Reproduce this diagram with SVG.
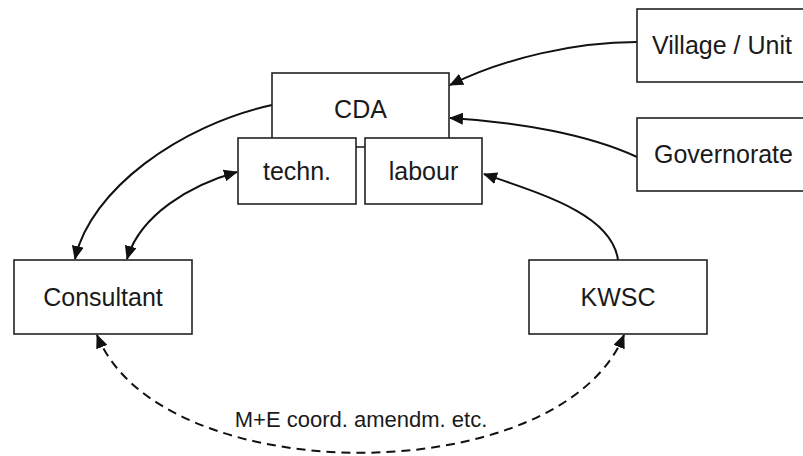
<svg xmlns="http://www.w3.org/2000/svg" width="803" height="456" viewBox="0 0 803 456">
  <style>
    .box { fill: #ffffff; stroke: #222222; stroke-width: 1.6; }
    .lbl { font-family: "Liberation Sans", Arial, sans-serif; font-size: 25px; fill: #1a1a1a; }
    .mid { text-anchor: middle; }
    .edge { fill: none; stroke: #111111; stroke-width: 2; }
    .dash { stroke-dasharray: 9 6; }
    .note { font-family: "Liberation Sans", Arial, sans-serif; font-size: 22px; fill: #1a1a1a; text-anchor: middle; }
  </style>
  <defs>
    <marker id="arrow" viewBox="0 0 14 12" refX="13" refY="6" markerWidth="14" markerHeight="12" markerUnits="userSpaceOnUse" orient="auto-start-reverse">
      <path d="M0,0 L14,6 L0,12 Z" fill="#111111"/>
    </marker>
  </defs>

  <rect x="0" y="0" width="803" height="456" fill="#ffffff"/>

  <!-- connectors -->
  <g id="connectors">
    <path class="edge" d="M637,42 C575,42 505,58 450,85" marker-end="url(#arrow)"/>
    <path class="edge" d="M637,157 C590,135 520,122 450,118" marker-end="url(#arrow)"/>
    <path class="edge" d="M618,260 C612,215 545,195 484,174" marker-end="url(#arrow)"/>
    <path class="edge" d="M272,105 C180,125 90,190 75,259" marker-end="url(#arrow)"/>
    <path class="edge" d="M127,259 C140,215 190,185 237,172" marker-start="url(#arrow)" marker-end="url(#arrow)"/>
    <path class="edge dash" d="M97,335 C160,492 560,492 624,335" marker-start="url(#arrow)" marker-end="url(#arrow)"/>
    <text class="note" x="361" y="427">M+E coord. amendm. etc.</text>
  </g>

  <!-- nodes -->
  <g id="cda">
    <rect class="box" x="272" y="73" width="177" height="74"/>
    <text class="lbl mid" x="360.5" y="118">CDA</text>
  </g>
  <g id="techn">
    <rect class="box" x="238" y="138" width="118" height="66"/>
    <text class="lbl mid" x="297" y="180">techn.</text>
  </g>
  <g id="labour">
    <rect class="box" x="365" y="138" width="117" height="66"/>
    <text class="lbl mid" x="423.5" y="180">labour</text>
  </g>
  <g id="village">
    <rect class="box" x="637" y="9" width="180" height="73"/>
    <text class="lbl" x="652" y="54">Village / Unit</text>
  </g>
  <g id="governorate">
    <rect class="box" x="637" y="118" width="180" height="73"/>
    <text class="lbl" x="654" y="163">Governorate</text>
  </g>
  <g id="consultant">
    <rect class="box" x="14" y="260" width="178" height="74"/>
    <text class="lbl mid" x="103" y="306">Consultant</text>
  </g>
  <g id="kwsc">
    <rect class="box" x="529" y="260" width="178" height="74"/>
    <text class="lbl mid" x="618" y="306">KWSC</text>
  </g>
</svg>
